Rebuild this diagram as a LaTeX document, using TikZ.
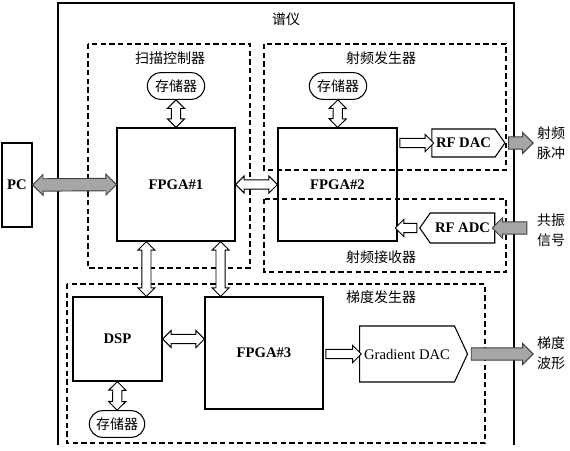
\documentclass[tikz,border=0pt]{standalone}
\usepackage{fontspec}
\setmainfont{Liberation Serif}
\newfontfamily\cjk{Noto Sans CJK SC}
\usetikzlibrary{shapes.misc,shapes.symbols,shapes.arrows,calc}

\begin{document}
\begin{tikzpicture}[x=0.75pt, y=-0.75pt,
    block/.style={draw, line width=0.9pt, inner sep=0pt, font=\bfseries\fontsize{11}{13}\selectfont},
    memory/.style={rounded rectangle, draw, line width=0.8pt, minimum width=45pt, minimum height=20pt, inner sep=1pt, font=\cjk\fontsize{10.5}{12}\selectfont},
    zone/.style={draw, line width=0.8pt, dash pattern=on 4pt off 2.5pt},
    tag/.style={align=center, font=\cjk\fontsize{10.5}{15}\selectfont},
    conv/.style={signal, draw, line width=0.8pt, inner sep=0pt, signal from=nowhere, font=\fontsize{11}{13}\selectfont},
    hollow2/.style={double arrow, draw, fill=white, line width=0.7pt, inner xsep=0pt, inner ysep=3.1pt, double arrow head extend=3pt, double arrow tip angle=90},
    hollow1/.style={single arrow, draw, fill=white, line width=0.7pt, inner xsep=0pt, inner ysep=3.1pt, single arrow head extend=3pt, single arrow tip angle=90},
    gray2/.style={double arrow, draw=black!75, fill=black!35, line width=0.7pt, inner xsep=0pt, inner ysep=4.3pt, double arrow head extend=3.2pt, double arrow tip angle=90},
    gray1/.style={single arrow, draw=black!75, fill=black!35, line width=0.7pt, inner xsep=0pt, inner ysep=4.3pt, single arrow head extend=3.2pt, single arrow tip angle=90},
    bus/.style={to path={let \p1=(\tikztostart), \p2=(\tikztotarget),
        \n1={veclen(\x2-\x1,\y2-\y1)}, \n2={atan2(\y2-\y1,\x2-\x1)} in
        node[#1, minimum height=\n1, rotate=\n2] at ($(\p1)!.5!(\p2)$) {}}}
  ]
  \useasboundingbox (0,0) rectangle (570,450);

  % Spectrometer frame and the dashed sub-units
  \draw[line width=0.9pt] (58,445) -- (58,3) -- (514,3) -- (514,445);
  \node[tag] (title) at (286,19) {谱仪};
  \draw[zone] (88,44) rectangle (250,268);
  \draw[zone] (264,44) rectangle (506,170);
  \draw[zone] (264,199) rectangle (506,272);
  \draw[zone] (67,284) rectangle (485,443);
  \node[tag] (scanlbl) at (170,58) {扫描控制器};
  \node[tag] (genlbl) at (381,58) {射频发生器};
  \node[tag] (rxlbl) at (381,257) {射频接收器};
  \node[tag] (gradlbl) at (381,297) {梯度发生器};

  % Blocks
  \node[block, minimum width=22.5pt, minimum height=63pt] (pc) at (17,185) {PC};
  \node[block, minimum width=88.5pt, minimum height=84.75pt] (fpga1) at (176,184.5) {FPGA\#1};
  \node[block, minimum width=89.25pt, minimum height=84.75pt] (fpga2) at (337.5,184.5) {FPGA\#2};
  \node[block, minimum width=66.75pt, minimum height=63pt] (dsp) at (117.5,339) {DSP};
  \node[block, minimum width=88.5pt, minimum height=84pt] (fpga3) at (264,353) {FPGA\#3};
  \node[memory] (mem1) at (176,86) {存储器};
  \node[memory] (mem2) at (338,86) {存储器};
  \node[memory, minimum width=43.5pt] (mem3) at (117,424) {存储器};

  % Converters
  \node[conv, signal to=east, signal pointer angle=110, minimum width=54.75pt, minimum height=21pt, font=\bfseries\fontsize{11}{13}\selectfont] (rfdac) at (463.5,143) {RF DAC};
  \node[conv, signal to=west, signal pointer angle=110, minimum width=56.25pt, minimum height=22.5pt, font=\bfseries\fontsize{11}{13}\selectfont] (rfadc) at (462.5,228) {RF ADC};
  \node[conv, signal to=east, signal pointer angle=130, minimum width=81pt, minimum height=42pt] (gdac) at (407,354) {Gradient DAC};

  % Outputs and inputs
  \coordinate (rfout) at (530,143);
  \coordinate (rfin) at (530,228);
  \coordinate (gout) at (530,354);
  \node[tag] (rfoutlbl) at (551,143) {射频\\脉冲};
  \node[tag] (rfinlbl) at (551,230) {共振\\信号};
  \node[tag] (goutlbl) at (551,353) {梯度\\波形};
  \coordinate (d1) at ($(fpga1.south west)+(30,0)$);
  \coordinate (d2) at ($(fpga1.south east)+(-15,0)$);

  % Buses
  \path (pc.east) to[bus=gray2] (fpga1.west);
  \path (fpga1.east) to[bus=hollow2] (fpga2.west);
  \path (mem1.south) to[bus=hollow2] (fpga1.north);
  \path (mem2.south) to[bus=hollow2] (fpga2.north);
  \path (d1) to[bus=hollow2] (d1 |- dsp.north);
  \path (d2) to[bus=hollow2] (d2 |- fpga3.north);
  \path (dsp.east) to[bus=hollow2] (dsp.east -| fpga3.west);
  \path (dsp.south) to[bus=hollow2] (mem3.north);
  \path (fpga2.east |- rfdac.west) to[bus=hollow1] (rfdac.west);
  \path (rfadc.west) to[bus=hollow1] (fpga2.east |- rfadc.west);
  \path (fpga3.east |- gdac.west) to[bus=hollow1] (gdac.west);
  \path (rfdac.east) to[bus=gray1] (rfout);
  \path (rfin) to[bus=gray1] (rfadc.east);
  \path (gdac.east) to[bus=gray1] (gout);
\end{tikzpicture}
\end{document}
